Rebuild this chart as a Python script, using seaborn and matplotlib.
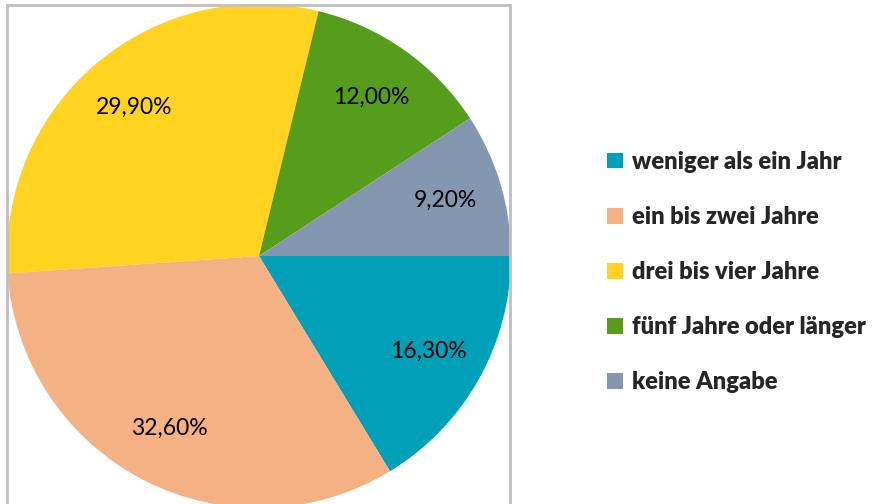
import matplotlib
matplotlib.use('Agg')
import matplotlib.pyplot as plt
import seaborn as sns
from matplotlib.patches import Rectangle

# Data
categories = ["weniger als ein Jahr", "ein bis zwei Jahre", "drei bis vier Jahre",
              "fünf Jahre oder länger", "keine Angabe"]
shares = [16.3, 32.6, 29.9, 12.0, 9.2]
colors = ["#00A0B8", "#F4B183", "#FFD320", "#579D1C", "#8497B0"]

sns.set_theme(style="white")
plt.rcParams['font.family'] = ['Lato', 'DejaVu Sans']

W, H = 877, 504
fig = plt.figure(figsize=(W / 100, H / 100), dpi=100)

# pie center (259, 256) px, radius 252 px
cx, cy, r = 259, 256, 252
ax = fig.add_axes([(cx - r) / W, (H - cy - r) / H, 2 * r / W, 2 * r / H])

wedges, texts, autotexts = ax.pie(
    shares, colors=colors, startangle=0, counterclock=False,
    autopct=lambda p: f"{p:.2f}%".replace(".", ","), pctdistance=0.77,
    textprops={'fontsize': 16.5, 'color': 'black'},
    wedgeprops={'linewidth': 0},
)
ax.set_xlim(-1, 1)
ax.set_ylim(-1, 1)
ax.set_aspect('equal')
ax.axis('off')

# plot area border
fig.patches.append(Rectangle((7 / W, -0.02), 503 / W, (H - 5) / H + 0.02,
                             transform=fig.transFigure, fill=False,
                             edgecolor="#BFBFBF", linewidth=2, clip_on=False))

fig.legend(wedges, categories, loc='center left', bbox_to_anchor=(586 / W, 1 - 272 / H),
           frameon=False, prop={'size': 17, 'weight': 'heavy'},
           handlelength=0.65, handleheight=0.65, handletextpad=0.4,
           labelspacing=1.4)

fig.savefig("out.png", dpi=100)
plt.close()
